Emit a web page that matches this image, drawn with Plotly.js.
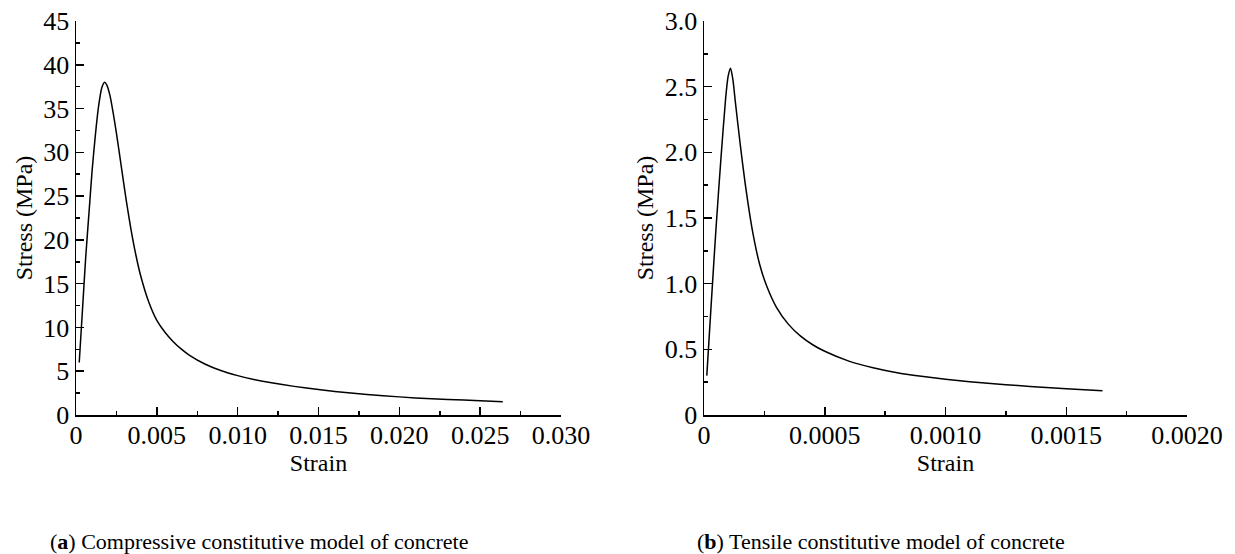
<!DOCTYPE html>
<html>
<head>
<meta charset="utf-8">
<script src="https://cdn.plot.ly/plotly-3.0.1.min.js"></script>
<style>html,body{margin:0;padding:0;background:#fff;}#chart{width:1235px;height:554px;}</style>
</head>
<body>
<div id="chart"></div>
<script>
// Compressive constitutive model (a)
const compStrain = [0.0002, 0.0004, 0.0006, 0.0008, 0.0010, 0.0012, 0.0014, 0.0016, 0.00177, 0.0019, 0.0021, 0.0023, 0.0025, 0.0028, 0.0031, 0.0034, 0.0037, 0.0040, 0.0045, 0.0050, 0.0055, 0.0060, 0.0065, 0.0070, 0.0080, 0.0090, 0.0100, 0.0110, 0.0120, 0.0135, 0.0150, 0.0170, 0.0190, 0.0210, 0.0230, 0.0250, 0.0264];
const compStress = [6.0, 12.0, 18.0, 23.0, 28.0, 32.0, 35.3, 37.4, 38.0, 37.7, 36.5, 34.5, 32.2, 28.4, 24.6, 21.2, 18.3, 15.9, 12.9, 10.8, 9.45, 8.4, 7.55, 6.85, 5.8, 5.05, 4.5, 4.05, 3.7, 3.27, 2.9, 2.5, 2.2, 1.95, 1.78, 1.62, 1.52];

// Tensile constitutive model (b)
const tensStrain = [0.0000116, 0.00003, 0.00005, 0.00007, 0.00009, 0.0001, 0.00011, 0.00012, 0.00013, 0.00015, 0.00017, 0.0002, 0.00023, 0.00026, 0.0003, 0.00035, 0.0004, 0.00045, 0.0005, 0.0006, 0.0007, 0.0008, 0.0009, 0.001, 0.0011, 0.0012, 0.0013, 0.0014, 0.0015, 0.00165];
const tensStress = [0.30, 0.85, 1.43, 1.95, 2.42, 2.58, 2.64, 2.55, 2.38, 2.06, 1.77, 1.41, 1.15, 0.98, 0.82, 0.69, 0.60, 0.535, 0.485, 0.41, 0.36, 0.322, 0.295, 0.272, 0.254, 0.238, 0.224, 0.211, 0.199, 0.185];

// Tick labels
const compXTicks = [0, 0.005, 0.010, 0.015, 0.020, 0.025, 0.030];
const compXText = ["0", "0.005", "0.010", "0.015", "0.020", "0.025", "0.030"];
const compYTicks = [0, 5, 10, 15, 20, 25, 30, 35, 40, 45];
const compYText = ["0", "5", "10", "15", "20", "25", "30", "35", "40", "45"];
const tensXTicks = [0, 0.0005, 0.0010, 0.0015, 0.0020];
const tensXText = ["0", "0.0005", "0.0010", "0.0015", "0.0020"];
const tensYTicks = [0, 0.5, 1.0, 1.5, 2.0, 2.5, 3.0];
const tensYText = ["0", "0.5", "1.0", "1.5", "2.0", "2.5", "3.0"];

const xTitle = "Strain";
const yTitle = "Stress (MPa)";
const captionA = "(<b>a</b>) Compressive constitutive model of concrete";
const captionB = "(<b>b</b>) Tensile constitutive model of concrete";

const W = 1235, H = 554;
const font = {family: "Liberation Serif, Times New Roman, serif", color: "#000"};

function axisBase(extra) {
  return Object.assign({
    showline: true, linecolor: "#000", linewidth: 1.5,
    showgrid: false, zeroline: false,
    ticks: "inside", ticklen: 8, tickwidth: 1.5, tickcolor: "#000",
    tickfont: Object.assign({size: 26}, font),
    tickmode: "array",
    fixedrange: true,
    automargin: false
  }, extra);
}

const lineStyle = {color: "#000", width: 1.5, shape: "spline", smoothing: 0.6};
const traces = [
  {x: compStrain, y: compStress, type: "scatter", mode: "lines", line: lineStyle, xaxis: "x", yaxis: "y", hoverinfo: "skip"},
  {x: tensStrain, y: tensStress, type: "scatter", mode: "lines", line: lineStyle, xaxis: "x2", yaxis: "y2", hoverinfo: "skip"}
];

const yDom = [1 - 415 / H, 1 - 21 / H];

const layout = {
  width: W, height: H,
  margin: {l: 0, r: 0, t: 0, b: 0},
  paper_bgcolor: "#fff", plot_bgcolor: "#fff",
  showlegend: false,
  font: font,
  xaxis: axisBase({
    domain: [76 / W, 561 / W], range: [0, 0.030], anchor: "y",
    tickvals: compXTicks, ticktext: compXText, ticklabelstandoff: -4,
    minor: {tickmode: "linear", tick0: 0, dtick: 0.0025, ticks: "inside", ticklen: 4, tickwidth: 1.5, tickcolor: "#000", showgrid: false},
    title: {text: xTitle, font: Object.assign({size: 24}, font), standoff: 0}
  }),
  yaxis: axisBase({
    domain: yDom, range: [0, 45], anchor: "x",
    tickvals: compYTicks, ticktext: compYText,
    minor: {tickmode: "linear", tick0: 0, dtick: 2.5, ticks: "inside", ticklen: 4, tickwidth: 1.5, tickcolor: "#000", showgrid: false},
    title: {text: yTitle, font: Object.assign({size: 24}, font), standoff: 4}
  }),
  xaxis2: axisBase({
    domain: [704 / W, 1187 / W], range: [0, 0.0020], anchor: "y2",
    tickvals: tensXTicks, ticktext: tensXText, ticklabelstandoff: -4,
    minor: {tickmode: "linear", tick0: 0, dtick: 0.00025, ticks: "inside", ticklen: 4, tickwidth: 1.5, tickcolor: "#000", showgrid: false},
    title: {text: xTitle, font: Object.assign({size: 24}, font), standoff: 0}
  }),
  yaxis2: axisBase({
    domain: yDom, range: [0, 3.0], anchor: "x2",
    tickvals: tensYTicks, ticktext: tensYText,
    minor: {tickmode: "linear", tick0: 0, dtick: 0.25, ticks: "inside", ticklen: 4, tickwidth: 1.5, tickcolor: "#000", showgrid: false},
    title: {text: yTitle, font: Object.assign({size: 24}, font), standoff: 4}
  }),
  annotations: [
    {text: captionA, xref: "paper", yref: "paper", x: 259 / W, y: 1 - 541 / H, xanchor: "center", yanchor: "middle", showarrow: false, font: Object.assign({size: 22}, font)},
    {text: captionB, xref: "paper", yref: "paper", x: 881 / W, y: 1 - 541 / H, xanchor: "center", yanchor: "middle", showarrow: false, font: Object.assign({size: 22}, font)}
  ]
};

Plotly.newPlot("chart", traces, layout, {staticPlot: true, displayModeBar: false});
</script>
</body>
</html>
